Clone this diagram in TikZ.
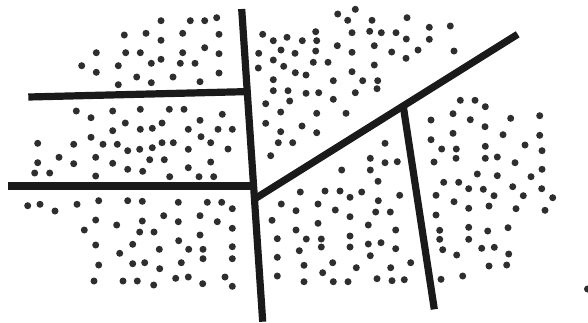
\documentclass[tikz,border=0pt]{standalone}
\usepackage{xcolor}
\definecolor{dotc}{HTML}{2E2E2E}
\definecolor{linec}{HTML}{1A1A1A}
\begin{document}
\begin{tikzpicture}[x=1pt,y=-1pt,
  dot/.style={fill=dotc},
  wall/.style={draw=linec,line width=7.2pt,line cap=butt}]
\useasboundingbox (0,0) rectangle (588,322);
\fill[white] (0,0) rectangle (588,322);
% dots
\foreach \x/\y in {
161/20.7,190.3/20.7,204.7/20.7,216.7/17.7,124.3/35,146/33.3,182.7/33.3,219/34.3,161/40.3,
96.3/52.7,125.7/52.7,140.3/52.7,182.7/52.7,204.7/47.7,219/53.7,161/59.3,151.3/63.3,180.3/63.3,195/63.3,
81.7/65.7,118.3/65.7,96.3/72.3,136.7/77,173/77,219/73,118.3/84.7,151.3/82.7,200/81.7,
76.3/111,91/117.7,112.7/111,140.3/109.3,169.3/109.3,184/109.3,222.3/114.3,125.3/123,162/123,200/120.3,
112.7/130.7,140.3/129.3,152.3/128.3,188.3/129.3,218/129.3,232.3/129.3,
37.7/143.3,73.7/144.3,91/137.3,103/144.3,117.3/144.3,127.7/150.7,139.7/149.3,152.3/147.7,162/142.7,173.3/142.7,188.3/149.3,201/136.7,210.7/142.7,228/149,
59/157.3,37.7/162.7,73.7/163.7,95.7/157.3,112.7/163.3,149.7/159.7,164.3/159.7,210.7/162,
34.7/173,49.7/173,95.7/176,127.7/169.3,142.7/171.3,169.7/176.7,188.3/167.7,199/176.7,213.7/176.7,
27.7/205.7,40/204.3,55/211,77/204.3,98.7/200.7,127.7/200.7,142.3/201.3,178.3/202.3,207.3/202.3,221.7/202.3,232.3/208.7,
95.7/220,116.7/225,142.3/221,163.7/215.7,178.3/221.7,200/215.7,217.3/221.7,232.3/228.3,
84.3/230,139.7/232,154/232,200/235,95.7/245,132.7/244.3,178.7/240.7,159.3/249.3,188.7/249.3,203/249.3,232.3/246.7,
119.7/253.3,203/258.7,232.3/258.7,98.7/265,132.7/263.7,144.7/262.7,181.3/262.7,159.7/268.7,
94/281,123/281,137.3/281,153.7/285,175.7/278.3,188.3/277,202.7/283.7,225/277,232.3/286.3,
262.7/34.3,273.3/40.7,287/37.3,258.7/53.3,281/50,295/53.3,273.3/60,258.3/68,283.7/66.3,295.3/72.7,
273.3/79.7,273.3/90.7,288/90.7,265.7/103.7,289.7/101,280.7/112,265.7/123.3,280.7/131.7,278.3/142.7,292.7/142.7,270.7/155.7,
281.3/204,296/210.7,272/220.3,296/230,277.3/238.7,299.3/250.7,277.3/257.3,277.3/276,
337.7/14,355.3/9.3,347.7/20.3,372/20.3,407/17.7,429.3/27.3,450.3/26,
302.3/40.7,315.7/31.7,316.7/40.7,352/32.7,369.7/31.3,381.3/32.7,396/32.7,406.3/39,429.3/39.3,
315.7/51,337.3/45.7,352/52.3,374.3/45.7,391.7/52,418/50,454/51,406/58.3,
313.3/62.3,328/62.3,306/75,352/71.7,374.3/65,333.3/80.7,362.7/80.7,377.7/80.7,
306/93.3,318.7/92.7,333.3/99.3,355.3/92.7,377/88.7,316.7/113.3,346/113.3,302/126,316.7/132.7,
385/143.3,370.3/158.3,385/162.7,397.3/161.7,341.7/170,370.3/170,378/181.3,
300.3/192,325/191,340/191,350/197.3,361.7/192,399.7/195.3,378.3/200.7,
318/204,335.3/210,350/216.7,375.7/212,390.3/212,318/223.3,368.3/225,395.7/230,
306.3/239,321.3/239,350/236,321.3/247,350/247,368.3/244,381/242.7,395.7/248.7,370.3/255.7,
304/265.3,332.7/262.7,356.3/267.7,390.7/267.7,410.7/262.7,322.7/272.7,
304/281.7,333.3/281.7,348/281.7,377/278.7,392/280.7,404.3/279.7,
460.3/100.3,475/100.3,485.3/106.7,453/113.7,470.3/119.7,431/120,510.7/118.3,539.7/115.7,
485/126.7,453/133.3,503/134.7,539.7/135.3,431/139.7,441.7/149,456.3/149,485.3/146.3,525/145,542/150.7,
434/162,456/158.3,485.3/158.3,497.3/157,515/162.7,542/169.3,477.3/174,497.3/175.7,531/176.7,
443.7/182.3,458.7/182.3,468.7/188.7,483.3/189.3,512.7/186.7,541.7/188.7,
436/195.3,494/195.7,523.3/195.7,552.7/197.7,454/201.7,468.7/208.3,489/206,516/208.7,545/210.3,
436/215,468.7/227.3,487.7/231,508/227.7,439.7/230.3,439.7/239.3,468.7/239.3,
442.7/249.7,481.7/248.3,494.3/247.3,456.7/255,508.7/254,489/266,506.7/265,441/279.3,462.7/276,
587.5/289}
  {\fill[dot] (\x,\y) circle (3.5pt);}
% partition lines
\coordinate (vt) at (241.7,9);
\coordinate (vb) at (262.7,321.7);
\coordinate (h1l) at (28.3,97);
\coordinate (h1r) at (247.3,91.6);
\coordinate (h2l) at (8.3,186);
\coordinate (h2r) at (253.6,186);
\coordinate (dl) at (254.5,199);
\coordinate (dr) at (517.7,34.3);
\coordinate (ft) at (403.3,106.5);
\coordinate (fb) at (434.3,309.3);
\draw[wall] (vt) -- (vb);
\draw[wall] (h1l) -- (h1r);
\draw[wall] (h2l) -- (h2r);
\draw[wall] (dl) -- (dr);
\draw[wall] (ft) -- (fb);
\end{tikzpicture}
\end{document}
